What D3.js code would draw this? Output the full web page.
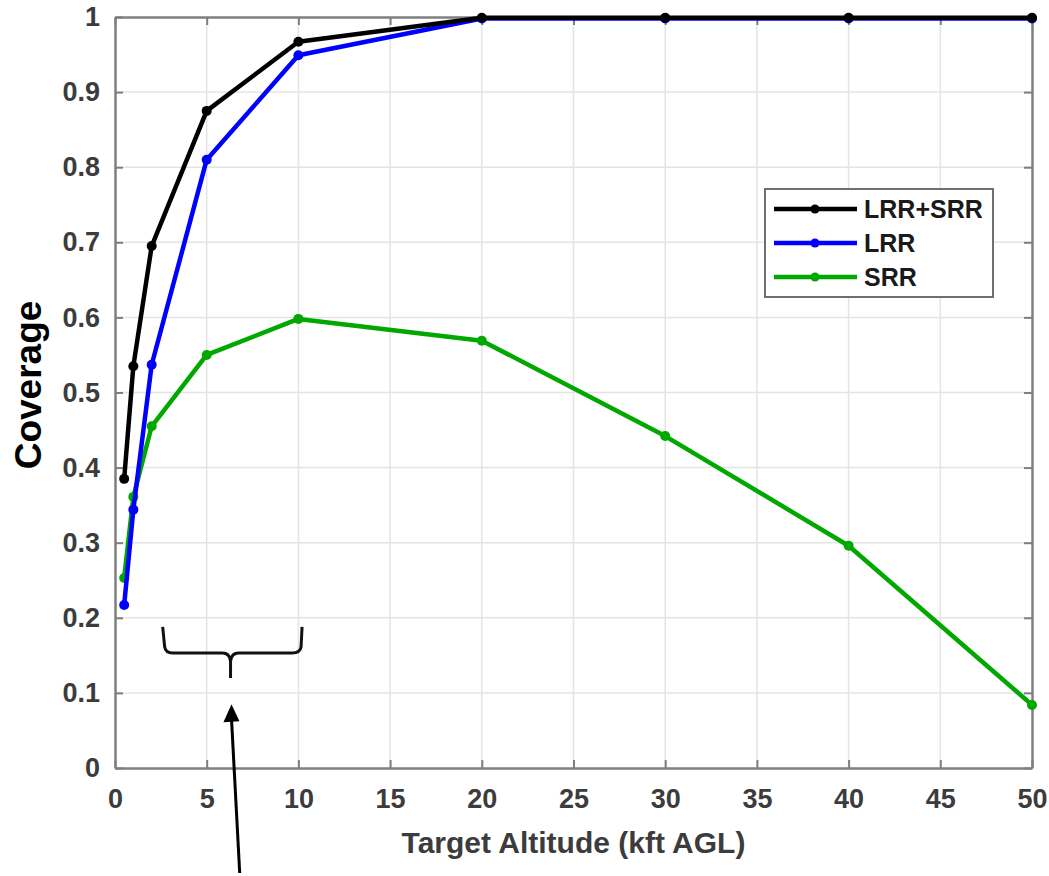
<!DOCTYPE html>
<html>
<head>
<meta charset="utf-8">
<script src="https://cdn.jsdelivr.net/npm/d3@7"></script>
<style>
  body { margin: 0; background: #fff; }
  text { font-family: "Liberation Sans", Arial, sans-serif; font-weight: bold; }
</style>
</head>
<body>
<div id="chart"></div>
<script>
// altitude points (kft AGL)
var altitudes = [0.5, 1, 2, 5, 10, 20, 30, 40, 50];

// coverage per sensor configuration
var seriesNames = ["LRR+SRR", "LRR", "SRR"];
var combinedValues = [0.385, 0.535, 0.695, 0.875, 0.967, 0.999, 0.999, 0.999, 0.999];
var lrrValues = [0.217, 0.344, 0.537, 0.810, 0.949, 0.998, 0.998, 0.998, 0.998];
var srrValues = [0.253, 0.361, 0.455, 0.550, 0.598, 0.569, 0.442, 0.296, 0.084];
var seriesColours = ["#000000", "#0000ff", "#00a800"];

var xTicks = [0, 5, 10, 15, 20, 25, 30, 35, 40, 45, 50];
var yTicks = [0, 0.1, 0.2, 0.3, 0.4, 0.5, 0.6, 0.7, 0.8, 0.9, 1];

var width = 1049, height = 876;
var margin = {left: 115, right: 17, top: 17, bottom: 108};

var svg = d3.select("#chart").append("svg")
    .attr("width", width)
    .attr("height", height);

var x = d3.scaleLinear().domain([0, 50]).range([margin.left, width - margin.right]);
var y = d3.scaleLinear().domain([0, 1]).range([height - margin.bottom, margin.top]);

var axisGrey = "#7f7f7f";
var labelGrey = "#3c3c3c";

// grid
var grid = svg.append("g").attr("class", "grid");
grid.selectAll(".vgrid")
    .data(xTicks.slice(1, -1))
  .enter()
    .append("line")
    .attr("x1", function(d) { return x(d); })
    .attr("x2", function(d) { return x(d); })
    .attr("y1", y(0))
    .attr("y2", y(1))
    .attr("stroke", "#e4e4e4")
    .attr("stroke-width", 1.5);
grid.selectAll(".hgrid")
    .data(yTicks.slice(1, -1))
  .enter()
    .append("line")
    .attr("x1", x(0))
    .attr("x2", x(50))
    .attr("y1", function(d) { return y(d); })
    .attr("y2", function(d) { return y(d); })
    .attr("stroke", "#e4e4e4")
    .attr("stroke-width", 1.5);

// axes with inward ticks on all four sides
var tickLen = 8;
var styleAxis = function(g) {
    g.select(".domain").attr("stroke", axisGrey).attr("stroke-width", 2.5);
    g.selectAll(".tick line").attr("stroke", axisGrey).attr("stroke-width", 2);
    g.selectAll(".tick text")
        .attr("fill", labelGrey)
        .attr("font-size", 27)
        .attr("font-family", "'Liberation Sans', Arial, sans-serif")
        .attr("font-weight", "bold");
};

svg.append("g")
    .attr("transform", "translate(0," + y(0) + ")")
    .call(d3.axisBottom(x).tickValues(xTicks).tickSize(-tickLen).tickSizeOuter(0).tickPadding(21))
    .call(styleAxis);

svg.append("g")
    .attr("transform", "translate(" + x(0) + ",0)")
    .call(d3.axisLeft(y).tickValues(yTicks).tickSize(-tickLen).tickSizeOuter(0).tickPadding(15)
        .tickFormat(function(d) { return d === 0 || d === 1 ? d3.format("d")(d) : d3.format(".1f")(d); }))
    .call(styleAxis);

svg.append("g")
    .attr("transform", "translate(0," + y(1) + ")")
    .call(d3.axisTop(x).tickValues(xTicks).tickSize(-tickLen).tickSizeOuter(0).tickFormat(""))
    .call(styleAxis);

svg.append("g")
    .attr("transform", "translate(" + x(50) + ",0)")
    .call(d3.axisRight(y).tickValues(yTicks).tickSize(-tickLen).tickSizeOuter(0).tickFormat(""))
    .call(styleAxis);

// series
var seriesValues = [combinedValues, lrrValues, srrValues];
var line = d3.line()
    .x(function(d) { return x(d[0]); })
    .y(function(d) { return y(d[1]); });

var drawOrder = [2, 1, 0];
drawOrder.forEach(function(s) {
    var pts = altitudes.map(function(a, i) { return [a, seriesValues[s][i]]; });
    var g = svg.append("g").attr("class", "series");
    g.append("path")
        .datum(pts)
        .attr("d", line)
        .attr("fill", "none")
        .attr("stroke", seriesColours[s])
        .attr("stroke-width", 4.5)
        .attr("stroke-linejoin", "round");
    g.selectAll("circle")
        .data(pts)
      .enter()
        .append("circle")
        .attr("cx", function(d) { return x(d[0]); })
        .attr("cy", function(d) { return y(d[1]); })
        .attr("r", 5)
        .attr("fill", seriesColours[s]);
});

// legend
var legend = svg.append("g").attr("transform", "translate(765,189)");
legend.append("rect")
    .attr("width", 228)
    .attr("height", 108)
    .attr("fill", "#fff")
    .attr("stroke", "#6f6f6f")
    .attr("stroke-width", 2);
var rows = legend.selectAll(".row")
    .data(seriesNames)
  .enter()
    .append("g")
    .attr("class", "row")
    .attr("transform", function(d, i) { return "translate(0," + (20 + i * 34) + ")"; });
rows.append("line")
    .attr("x1", 9).attr("x2", 92)
    .attr("stroke", function(d, i) { return seriesColours[i]; })
    .attr("stroke-width", 4.5);
rows.append("circle")
    .attr("cx", 50).attr("r", 4.5)
    .attr("fill", function(d, i) { return seriesColours[i]; });
rows.append("text")
    .attr("x", 99)
    .attr("dy", "0.36em")
    .attr("font-size", 25)
    .attr("fill", "#1a1a1a")
    .text(function(d) { return d; });

// axis titles
svg.append("text")
    .attr("x", (x(0) + x(50)) / 2)
    .attr("y", 853)
    .attr("text-anchor", "middle")
    .attr("font-size", 30)
    .attr("fill", labelGrey)
    .text("Target Altitude (kft AGL)");

svg.append("text")
    .attr("transform", "translate(41," + y(0.51) + ") rotate(-90)")
    .attr("text-anchor", "middle")
    .attr("font-size", 37)
    .attr("fill", "#000")
    .text("Coverage");

// brace + arrow annotation
var bx0 = x(2.6), bx1 = x(10.2), bxm = x(6.3);
var bTop = y(0.188), bMid = y(0.153), bTip = y(0.12);
svg.append("path")
    .attr("d", "M" + bx0 + "," + bTop +
        " L" + (bx0 + 2) + "," + (bMid - 6) +
        " Q" + (bx0 + 3) + "," + bMid + " " + (bx0 + 10) + "," + bMid +
        " L" + (bxm - 8) + "," + bMid +
        " Q" + (bxm - 1) + "," + bMid + " " + bxm + "," + (bMid + 8) +
        " L" + bxm + "," + bTip +
        " M" + bxm + "," + (bMid + 8) +
        " Q" + (bxm + 1) + "," + bMid + " " + (bxm + 8) + "," + bMid +
        " L" + (bx1 - 10) + "," + bMid +
        " Q" + (bx1 - 2) + "," + bMid + " " + (bx1 - 1) + "," + (bMid - 6) +
        " L" + bx1 + "," + bTop)
    .attr("fill", "none")
    .attr("stroke", "#111")
    .attr("stroke-width", 3);

var ax0 = x(6.8), ay0 = 873, ax1 = x(6.35), ay1 = y(0.085);
svg.append("line")
    .attr("x1", ax0).attr("y1", ay0)
    .attr("x2", ax1).attr("y2", ay1 + 14)
    .attr("stroke", "#000")
    .attr("stroke-width", 3);
svg.append("path")
    .attr("d", "M" + ax1 + "," + ay1 + " L" + (ax1 - 8) + "," + (ay1 + 18) + " L" + (ax1 + 8) + "," + (ay1 + 17) + " Z")
    .attr("fill", "#000");
</script>
</body>
</html>
